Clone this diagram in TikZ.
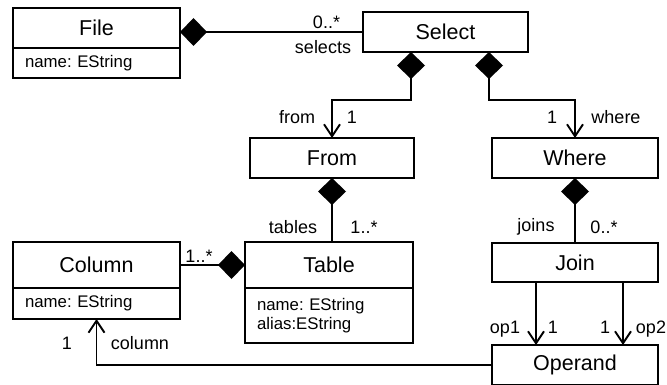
\documentclass[tikz,border=0pt]{standalone}
\usepackage{fontspec}
\setmainfont{Liberation Sans}
\usetikzlibrary{arrows.meta}
\frenchspacing
\newcommand{\clsfont}{\fontsize{21.5}{25}\selectfont}
\newcommand{\lblfont}{\fontsize{18}{21}\selectfont}
\newcommand{\attfont}{\fontsize{16.8}{19}\selectfont}
\begin{document}
\begin{tikzpicture}[x=1pt,y=-1pt,line width=1.9pt,
  head/.style n args={2}{draw,rectangle,inner sep=0pt,outer sep=0pt,
    minimum width=#1,minimum height=#2,font=\clsfont},
  attrs/.style n args={2}{draw,rectangle,outer sep=0pt,inner ysep=0pt,inner xsep=12pt,
    text width=#1,minimum height=#2,align=left,font=\attfont},
  lbl/.style={inner sep=0pt,font=\lblfont},
  comp/.style={{Diamond[length=27pt,width=28pt]}-},
  compnav/.style={{Diamond[length=27pt,width=28pt]}-{Straight Barb[length=12pt,width=16pt]}},
  nav/.style={-{Straight Barb[length=12pt,width=16pt]}}]
\useasboundingbox (0,0) rectangle (667,385);
\fill[white] (0,0) rectangle (667,385);

% classes
\node[head={167pt}{40pt}] (FileH) at (96.5,28) {File};
\node[attrs={143pt}{30pt}] (FileA) at (96.5,63) {name: EString};
\node[head={165pt}{40pt}] (Select) at (445.5,32) {Select};
\node[head={164pt}{40pt}] (From) at (332,158) {From};
\node[head={166pt}{40pt}] (Where) at (575,158) {Where};
\node[head={167pt}{46pt}] (ColumnH) at (96.5,265) {Column};
\node[attrs={143pt}{31pt}] (ColumnA) at (96.5,303.5) {name: EString};
\node[head={168pt}{46pt}] (TableH) at (329,265) {Table};
\node[attrs={144pt}{55pt}] (TableA) at (329,315.5) {name: EString\\alias:EString};
\node[head={166pt}{39pt}] (Join) at (575,262.5) {Join};
\node[head={166pt}{40pt}] (Operand) at (575,365) {Operand};

% associations
\draw[comp] (Select.west -| FileH.east) -- (Select.west);
\draw[compnav] ([xshift=-34.5pt]Select.south) -- ++(0,48) -| (From.north);
\draw[compnav] ([xshift=43.5pt]Select.south) -- ++(0,48) -| (Where.north);
\draw[comp] (From.south) -- (From.south |- TableH.north);
\draw[comp] (TableH.west) -- (TableH.west -| ColumnH.east);
\draw[comp] (Where.south) -- (Join.north);
\draw[nav] ([xshift=-39pt]Join.south) -- ([xshift=-39pt]Join.south |- Operand.north);
\draw[nav] ([xshift=48pt]Join.south) -- ([xshift=48pt]Join.south |- Operand.north);
\draw[nav] (Operand.west) -| (ColumnA.south);

% role names and multiplicities
\node[lbl] (mSel) at (326.5,22) {0..*};
\node[lbl] (rSel) at (323,47) {selects};
\node[lbl] (rFrom) at (297,117) {from};
\node[lbl] (mFrom) at (352,117) {1};
\node[lbl] (mWhere) at (552,117) {1};
\node[lbl] (rWhere) at (616,117) {where};
\node[lbl] (rTab) at (293,227) {tables};
\node[lbl] (mTab) at (364,227) {1..*};
\node[lbl] (mCol) at (199,256) {1..*};
\node[lbl] (rJoin) at (536,227) {joins};
\node[lbl] (mJoin) at (604,227) {0..*};
\node[lbl] (rOp1) at (505,329) {op1};
\node[lbl] (mOp1) at (553,327) {1};
\node[lbl] (mOp2) at (605,327) {1};
\node[lbl] (rOp2) at (651,329) {op2};
\node[lbl] (mColRef) at (67,343) {1};
\node[lbl] (rColRef) at (140,343) {column};
\end{tikzpicture}
\end{document}
